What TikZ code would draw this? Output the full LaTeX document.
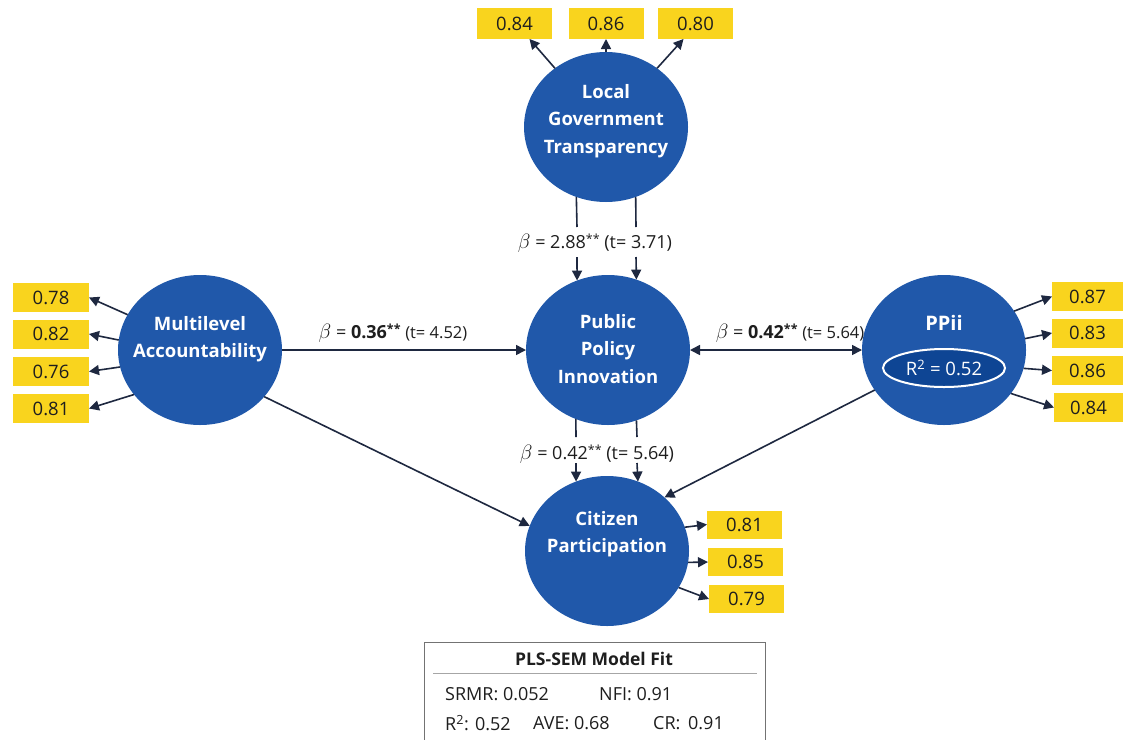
\documentclass[tikz,border=0pt]{standalone}
\usepackage{fontspec}
\setmainfont{Open Sans}
\usetikzlibrary{shapes.geometric,arrows.meta,calc}
\definecolor{cblue}{HTML}{2058AA}
\definecolor{cyel}{HTML}{F9D41E}
\definecolor{cnavy}{HTML}{1E2840}
\definecolor{cdark}{HTML}{0E4594}
\definecolor{ctext}{HTML}{1E1E1E}
\newcommand{\bet}{{\fontsize{22}{22}\selectfont$\beta$}}
\newcommand{\sts}{\raisebox{4.5pt}{\fontsize{12.5}{12}\selectfont**}}
\newcommand{\stb}{\raisebox{4.5pt}{\fontsize{12.5}{12}\selectfont\bfseries**}}
\begin{document}
\begin{tikzpicture}[x=1pt,y=-1pt,
  lv/.style={ellipse, fill=cblue, minimum width=164pt, minimum height=150pt, inner sep=0pt, outer sep=0pt},
  lvtext/.style={text=white, font=\fontsize{18.5}{27.5}\selectfont\bfseries, align=center, inner sep=0pt},
  ybox/.style={fill=cyel, minimum width=75pt, minimum height=29pt, inner sep=0pt, outer sep=0pt, font=\fontsize{18.5}{20}\selectfont, text=ctext},
  arr/.style={draw=cnavy, line width=1.6pt, -{Triangle[length=10pt,width=10pt]}},
  darr/.style={draw=cnavy, line width=1.6pt, {Triangle[length=10pt,width=10pt]}-{Triangle[length=10pt,width=10pt]}},
  ln/.style={draw=cnavy, line width=1.6pt},
  lbl/.style={font=\fontsize{18}{20}\selectfont, text=ctext, inner sep=0pt},
  fittxt/.style={font=\fontsize{18}{20}\selectfont, text=ctext, inner sep=0pt, anchor=west}
]
\fill[white] (0,0) rectangle (1123,739);
\useasboundingbox (0,0) rectangle (1123,739);

% latent variables
\node[lv] (lgt) at (606,127) {};
\node[lvtext] (lgtt) at (606,121) {Local\\Government\\Transparency};
\node[lv] (ma) at (200,350) {};
\node[lvtext] (mat) at (200,339) {Multilevel\\Accountability};
\node[lv] (ppi) at (608,350) {};
\node[lvtext] (ppit) at (608,349) {Public\\Policy\\Innovation};
\node[lv] (ppii) at (944,350) {};
\node[lvtext, font=\fontsize{20}{22}\selectfont\bfseries] (ppiit) at (944,323) {PPii};
\node[ellipse, fill=cdark, draw=white, line width=2pt, minimum width=122pt, minimum height=38pt, inner sep=0pt, text=white, font=\fontsize{18.5}{20}\selectfont] (r2) at (944,368) {R\textsuperscript{2} = 0.52};
\node[lv] (cp) at (607,551) {};
\node[lvtext] (cpt) at (607,534) {Citizen\\Participation};

% indicator boxes
\node[ybox, minimum height=31pt] (t1) at (514.5,23.5) {0.84};
\node[ybox, minimum height=31pt] (t2) at (606,23.5) {0.86};
\node[ybox, minimum height=31pt] (t3) at (695.5,23.5) {0.80};

\node[ybox, minimum width=76pt] (l1) at (51,297.5) {0.78};
\node[ybox, minimum width=76pt] (l2) at (51,334) {0.82};
\node[ybox, minimum width=76pt] (l3) at (51,371.5) {0.76};
\node[ybox, minimum width=76pt] (l4) at (51,408.5) {0.81};

\node[ybox, minimum width=71pt] (r1) at (1087.5,296.5) {0.87};
\node[ybox, minimum width=71pt] (r2b) at (1087.5,333) {0.83};
\node[ybox, minimum width=71pt] (r3) at (1087.5,370.5) {0.86};
\node[ybox, minimum width=69pt] (r4) at (1088.5,407.5) {0.84};

\node[ybox, minimum height=28pt] (c1) at (744.5,524.5) {0.81};
\node[ybox, minimum height=28pt] (c2) at (745.5,562) {0.85};
\node[ybox, minimum height=28pt] (c3) at (746.5,599) {0.79};

% loadings arrows
\draw[arr] (lgt.131) -- ([xshift=15pt]t1.south);
\draw[arr] (lgt.90) -- (t2.south);
\draw[arr] (lgt.49.5) -- ([xshift=-12pt]t3.south);

\draw[arr] (ma.154) -- (l1.east);
\draw[arr] (ma.173) -- (l2.east);
\draw[arr] (ma.192) -- (l3.east);
\draw[arr] (ma.214) -- (l4.east);

\draw[arr] (ppii.29) -- (r1.west);
\draw[arr] (ppii.8) -- (r2b.west);
\draw[arr] (ppii.-13) -- (r3.west);
\draw[arr] (ppii.-33) -- (r4.west);

\draw[arr] (cp.17) -- (c1.west);
\draw[arr] (cp.-8) -- (c2.west);
\draw[arr] (cp.-27) -- (c3.west);

% structural paths
\coordinate (ga1) at (577,227);
\coordinate (gb1) at (577,257);
\coordinate (ga2) at (636,227);
\coordinate (gb2) at (636,257);
\draw[ln] (lgt.247.54) -- (ga1);
\draw[ln] (lgt.293.26) -- (ga2);
\draw[arr] (gb1) -- (ppi.114.07);
\draw[arr] (gb2) -- (ppi.68.33);

\coordinate (pa1) at (576,437);
\coordinate (pb1) at (576,463);
\coordinate (pa2) at (637,437);
\coordinate (pb2) at (637,463);
\draw[ln] (ppi.245.14) -- (pa1);
\draw[ln] (ppi.292.46) -- (pa2);
\draw[arr] (pb1) -- (cp.114.07);
\draw[arr] (pb2) -- (cp.66.74);

\draw[arr] (ma.east) -- (ppi.west);
\draw[darr] (ppi.east) -- (ppii.west);
\draw[arr] (ma.324.5) -- (cp.162);
\draw[arr] (ppii.210.6) -- (cp.43);

% path labels
\node[lbl] (b1) at (595,243) {\bet{} = 2.88\sts{} (t= 3.71)};
\node[lbl] (b2) at (393,333) {\bet{} = \textbf{0.36}\stb{} {\fontsize{16.5}{18}\selectfont (t= 4.52)}};
\node[lbl] (b3) at (790,333) {\bet{} = \textbf{0.42}\stb{} {\fontsize{16.5}{18}\selectfont (t= 5.64)}};
\node[lbl] (b4) at (597,454) {\bet{} = 0.42\sts{} (t= 5.64)};

% model fit box
\draw[draw=black!55, line width=1pt] (424,750) -- (424,642) -- (765,642) -- (765,750);
\draw[draw=black!35, line width=1pt] (433,673) -- (757,673);
\node[font=\fontsize{17.5}{20}\selectfont\bfseries, text=ctext, inner sep=0pt] (ft) at (594,659) {PLS-SEM Model Fit};
\node[fittxt] (f1) at (445,694) {SRMR: 0.052};
\node[fittxt] (f2) at (599,694) {NFI: 0.91};
\node[fittxt] (f3) at (445,723) {R\textsuperscript{2}: 0.52};
\node[fittxt] (f4) at (533,723) {AVE: 0.68};
\node[fittxt] (f5) at (653,723) {CR:\, 0.91};
\end{tikzpicture}
\end{document}
